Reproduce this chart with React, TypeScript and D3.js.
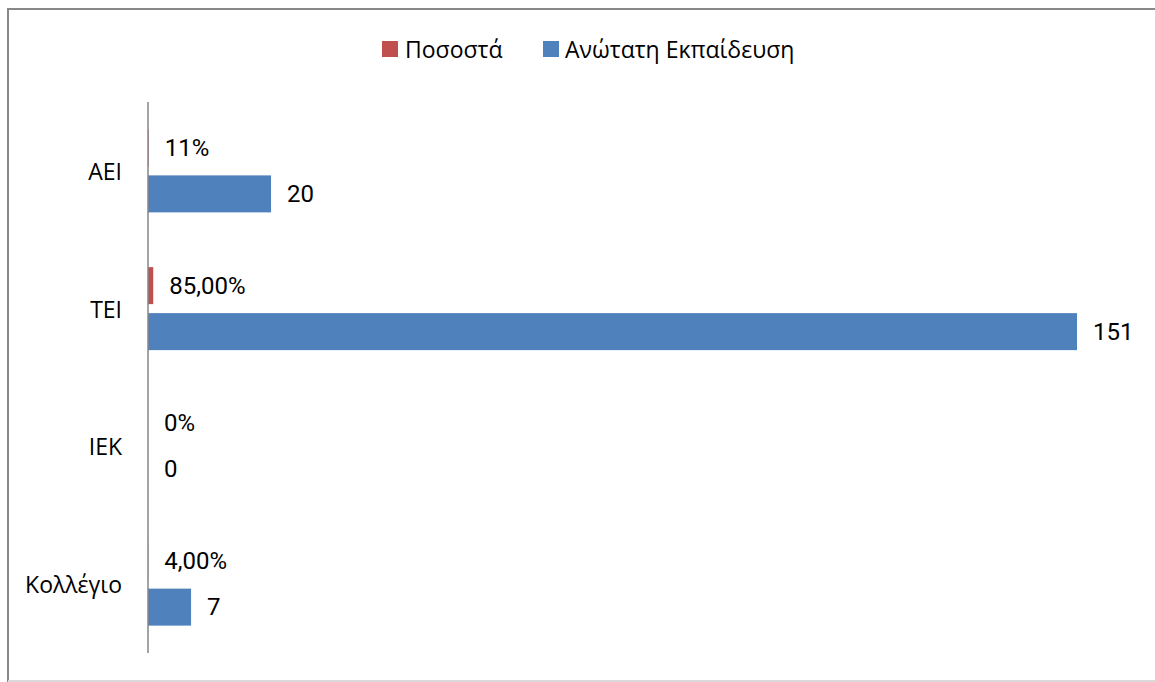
import React from "react";
import * as d3 from "d3";

const categories = ["ΑΕΙ", "ΤΕΙ", "ΙΕΚ", "Κολλέγιο"];
const percentValues = [0.11, 0.85, 0, 0.04];
const percentLabels = ["11%", "85,00%", "0%", "4,00%"];
const countValues = [20, 151, 0, 7];
const seriesNames = ["Ποσοστά", "Ανώτατη Εκπαίδευση"];
const seriesColors = ["#C0504D", "#4F81BD"];

const W = 1155;
const H = 682;
const FONT = "'Open Sans', 'Noto Sans', sans-serif";

export default function App() {
  const x = d3.scaleLinear().domain([0, 151]).range([148, 1077]);
  const y = d3.scaleBand().domain(categories).range([102, 653]);
  const barH = 37;

  return (
    <svg
      width={W}
      height={H}
      style={{ position: "absolute", left: 0, top: 0, background: "#fff" }}
      fontFamily={FONT}
    >
      <rect x={8} y={9} width={1170} height={672} fill="#fff" stroke="#888" strokeWidth={2} />
      <line x1={8} x2={1160} y1={681} y2={681} stroke="#d9d9d9" strokeWidth={2} />

      {/* legend */}
      <g>
        <rect x={382} y={41} width={16} height={16} fill={seriesColors[0]} />
        <text x={405} y={49} dominantBaseline="central" fontSize={23} fill="#000">{seriesNames[0]}</text>
        <rect x={543} y={41} width={16} height={16} fill={seriesColors[1]} />
        <text x={565} y={49} dominantBaseline="central" fontSize={23} fill="#000">{seriesNames[1]}</text>
      </g>

      {categories.map((c, i) => {
        const cy = (y(c) as number) + y.bandwidth() / 2;
        const redTop = cy - 41.5;
        const blueTop = cy + 4.5;
        const rw = x(percentValues[i]) - x(0);
        const bw = x(countValues[i]) - x(0);
        return (
          <g key={c}>
            <text x={122} y={cy} textAnchor="end" dominantBaseline="central" fontSize={23} fill="#000">{c}</text>
            {rw > 0 && <rect x={x(0)} y={redTop} width={rw} height={barH} fill={seriesColors[0]} />}
            {bw > 0 && <rect x={x(0)} y={blueTop} width={bw} height={barH} fill={seriesColors[1]} />}
            <text x={x(0) + rw + 16} y={redTop + barH / 2} dominantBaseline="central" fontSize={24} fontFamily="Roboto, sans-serif" fill="#000">{percentLabels[i]}</text>
            <text x={x(0) + bw + 16} y={blueTop + barH / 2} dominantBaseline="central" fontSize={24} fontFamily="Roboto, sans-serif" fill="#000">{String(countValues[i])}</text>
          </g>
        );
      })}

      <line x1={148} x2={148} y1={102} y2={653} stroke="#868686" strokeWidth={1.5} />
    </svg>
  );
}
